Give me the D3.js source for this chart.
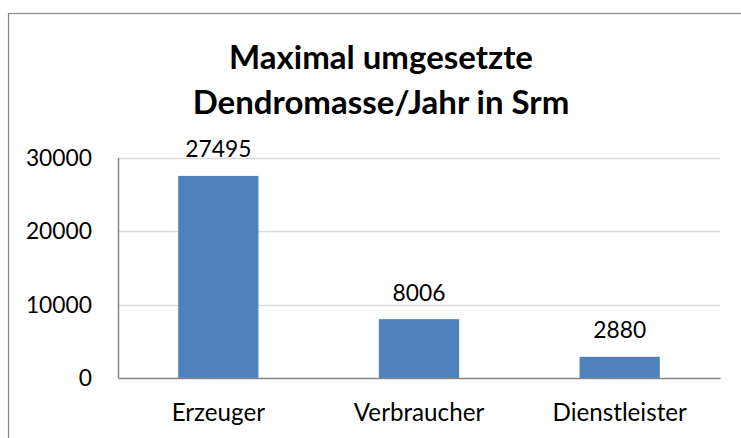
<!DOCTYPE html>
<html>
<head>
<meta charset="utf-8">
<script src="https://cdn.jsdelivr.net/npm/d3@7"></script>
<style>
  html, body { margin: 0; padding: 0; background: #fff; }
  svg { display: block; }
</style>
</head>
<body>
<svg id="chart" width="741" height="438"></svg>
<script>
const categories = ["Erzeuger", "Verbraucher", "Dienstleister"];
const values = [27495, 8006, 2880];
const yTicks = [0, 10000, 20000, 30000];
const titleLines = ["Maximal umgesetzte", "Dendromasse/Jahr in Srm"];

const W = 741, H = 438;
const svg = d3.select("#chart");
const font = "Lato, 'Open Sans', sans-serif";

// outer frame (extends past the right and bottom edges)
svg.append("rect")
  .attr("x", 8.5).attr("y", 13.5)
  .attr("width", 760).attr("height", 460)
  .attr("fill", "#fff").attr("stroke", "#868686").attr("stroke-width", 1.2);

const plot = { left: 118, right: 720, top: 157.5, bottom: 378 };

const x = d3.scaleBand()
  .domain(categories)
  .range([plot.left, plot.right])
  .paddingInner(0.6).paddingOuter(0.3);

const y = d3.scaleLinear()
  .domain([0, 30000])
  .range([plot.bottom, plot.top]);

// gridlines
svg.append("g")
  .selectAll("line")
  .data(yTicks.filter(d => d > 0))
  .join("line")
  .attr("x1", plot.left).attr("x2", plot.right)
  .attr("y1", d => Math.round(y(d)) + 0.5).attr("y2", d => Math.round(y(d)) + 0.5)
  .attr("stroke", "#d9d9d9").attr("stroke-width", 1.5);

// bars
svg.append("g")
  .selectAll("rect")
  .data(values)
  .join("rect")
  .attr("x", (d, i) => x(categories[i]))
  .attr("width", x.bandwidth())
  .attr("y", d => y(d))
  .attr("height", d => y(0) - y(d))
  .attr("fill", "#4f81bd");

// value labels
svg.append("g")
  .selectAll("text")
  .data(values)
  .join("text")
  .attr("x", (d, i) => x(categories[i]) + x.bandwidth() / 2)
  .attr("y", d => y(d) - 18.5)
  .attr("text-anchor", "middle")
  .attr("font-family", font)
  .attr("font-size", 22.8)
  .attr("fill", "#000")
  .text(d => d);

// y axis
const yAxis = d3.axisLeft(y).tickValues(yTicks).tickSize(0).tickPadding(26).tickFormat(d3.format("d"));
const gy = svg.append("g").attr("transform", `translate(${plot.left},0)`).call(yAxis);
gy.select(".domain").attr("stroke", "#868686").attr("stroke-width", 1.5);
gy.selectAll("text").attr("font-family", font).attr("font-size", 22.8).attr("fill", "#000").attr("dy", "0.35em");

// x axis
const xAxis = d3.axisBottom(x).tickSize(0).tickPadding(26);
const gx = svg.append("g").attr("transform", `translate(0,${plot.bottom})`).call(xAxis);
gx.select(".domain").attr("stroke", "#868686").attr("stroke-width", 1.5);
gx.selectAll("text").attr("font-family", font).attr("font-size", 24.2).attr("fill", "#000");

// title
svg.append("g")
  .selectAll("text")
  .data(titleLines)
  .join("text")
  .attr("x", 381)
  .attr("y", (d, i) => 68.5 + i * 45)
  .attr("text-anchor", "middle")
  .attr("font-family", font)
  .attr("font-weight", "bold")
  .attr("font-size", 33)
  .attr("fill", "#000")
  .text(d => d);
</script>
</body>
</html>
